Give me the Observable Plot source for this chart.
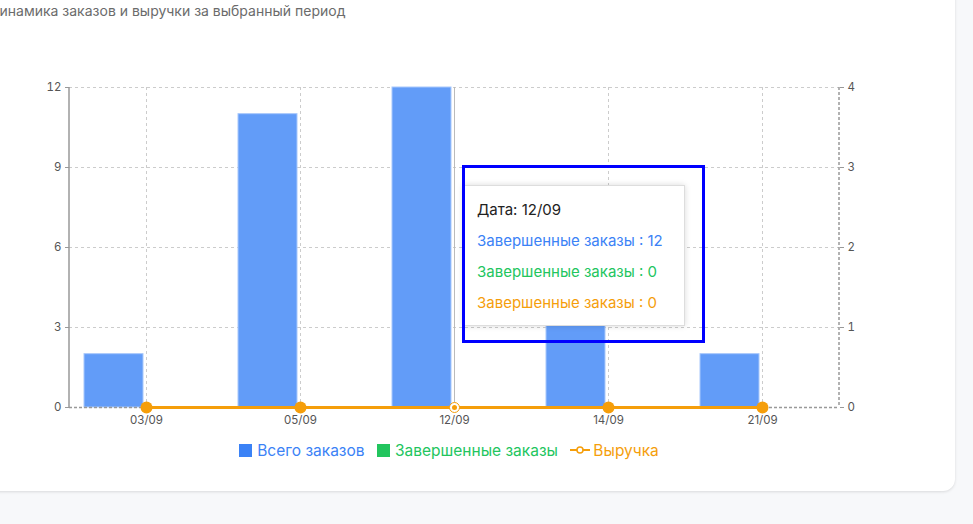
<!DOCTYPE html>
<html><head><meta charset="utf-8">
<script src="https://cdn.jsdelivr.net/npm/d3@7"></script>
<script src="https://cdn.jsdelivr.net/npm/@observablehq/plot@0.6"></script>
<style>
body{margin:0;background:#f7f8fa;font-family:Inter,"Noto Sans",sans-serif;overflow:hidden}
#card{position:absolute;left:-30px;top:-20px;width:985px;height:511px;background:#fff;border-radius:12px;box-shadow:0 1px 3px rgba(0,0,0,.12)}
#title{position:absolute;left:-12px;top:2px;font-size:14px;color:#6b6b6b;white-space:nowrap}
#chart{position:absolute;left:0;top:0}
#legend{position:absolute;top:441px;left:0;width:898px;text-align:center;font-size:15.5px}
#legend span{margin:0 4px}
.sq{display:inline-block;width:13px;height:13px;vertical-align:-1px;margin-right:5px}
#tip{position:absolute;left:463px;top:185px;width:222px;height:141px;box-sizing:border-box;background:#fff;border:1px solid #ddd;box-shadow:0 0 6px rgba(0,0,0,.15);padding:8px 13px;font-size:15px;line-height:31px}
#hl{position:absolute;left:462px;top:165px;width:243px;height:178px;box-sizing:border-box;border:3px solid #0000ff}
</style></head>
<body>
<div id="card"></div>
<div id="chart"></div>
<div id="title">Динамика заказов и выручки за выбранный период</div>
<div id="legend">
<span style="color:#3b82f6"><i class="sq" style="background:#3b82f6"></i>Всего заказов</span>
<span style="color:#22c55e"><i class="sq" style="background:#22c55e"></i>Завершенные заказы</span>
<span style="color:#f59e0b"><svg width="20" height="10" style="vertical-align:1px;margin-right:3px"><line x1="0" x2="20" y1="5" y2="5" stroke="#f59e0b" stroke-width="2"/><circle cx="10" cy="5" r="3" fill="#fff" stroke="#f59e0b" stroke-width="1.5"/></svg>Выручка</span>
</div>
<div id="tip">
<div style="color:#222">Дата: 12/09</div>
<div style="color:#3b82f6">Завершенные заказы : 12</div>
<div style="color:#22c55e">Завершенные заказы : 0</div>
<div style="color:#f59e0b">Завершенные заказы : 0</div>
</div>
<div id="hl"></div>
<script>
const dates = ["03/09", "05/09", "12/09", "14/09", "21/09"];
const totalOrders = [2, 11, 12, 4, 2];
const doneOrders = [0, 0, 0, 0, 0];
const revenue = [0, 0, 0, 0, 0];
const leftTicks = [0, 3, 6, 9, 12];
const hovered = "12/09";

const rows = dates.map((d, i) => ({date: d, total: totalOrders[i], done: doneOrders[i], rev: revenue[i] * 3}));

const chart = Plot.plot({
  width: 973,
  height: 435,
  marginLeft: 69,
  marginRight: 134,
  marginTop: 87,
  marginBottom: 28,
  style: {fontFamily: "Inter, sans-serif", fontSize: "11.5px", color: "#555", background: "transparent"},
  x: {domain: dates, padding: 0, label: null},
  y: {domain: [0, 12], label: null},
  marks: [
    Plot.gridY(leftTicks.slice(1), {stroke: "#ccc", strokeOpacity: 1, strokeDasharray: "3,3"}),
    Plot.gridX(dates, {stroke: "#ccc", strokeOpacity: 1, strokeDasharray: "3,3"}),
    Plot.barY(rows, {x: "date", y: "total", fill: "#629cf8", stroke: "#a8c8fb", strokeWidth: 1, insetLeft: 15, insetRight: 80}),
    Plot.barY(rows, {x: "date", y: "done", fill: "#22c55e", insetLeft: 77, insetRight: 18}),
    Plot.ruleX([hovered], {stroke: "#bbb"}),
    Plot.ruleY([0], {stroke: "#999", strokeDasharray: "3,2", strokeWidth: 1.5}),
    Plot.line(rows, {x: "date", y: "rev", stroke: "#f59e0b", strokeWidth: 3}),
    Plot.dot(rows.filter(r => r.date !== hovered), {x: "date", y: "rev", r: 6, fill: "#f59e0b"}),
    Plot.dot(rows.filter(r => r.date === hovered), {x: "date", y: "rev", r: 5, fill: "#fff", stroke: "#f59e0b", strokeWidth: 1}),
    Plot.dot(rows.filter(r => r.date === hovered), {x: "date", y: "rev", r: 2.5, fill: "#f59e0b"}),
    Plot.axisY(leftTicks, {anchor: "left", tickSize: 4, tickPadding: 4, stroke: "#999"}),
    Plot.axisY(leftTicks, {anchor: "right", tickSize: 4, tickPadding: 4, stroke: "#999", tickFormat: v => v / 3}),
    Plot.axisX({tickSize: 0, tickPadding: 8})
  ]
});
document.getElementById("chart").appendChild(chart);

// side frame lines
const svg = d3.select(chart);
svg.append("line").attr("x1", 69).attr("x2", 69).attr("y1", 87).attr("y2", 407).attr("stroke", "#999").attr("stroke-width", 1.5);
svg.append("line").attr("x1", 839).attr("x2", 839).attr("y1", 87).attr("y2", 407).attr("stroke", "#999").attr("stroke-width", 1.5).attr("stroke-dasharray", "3,2");
</script>
</body></html>
